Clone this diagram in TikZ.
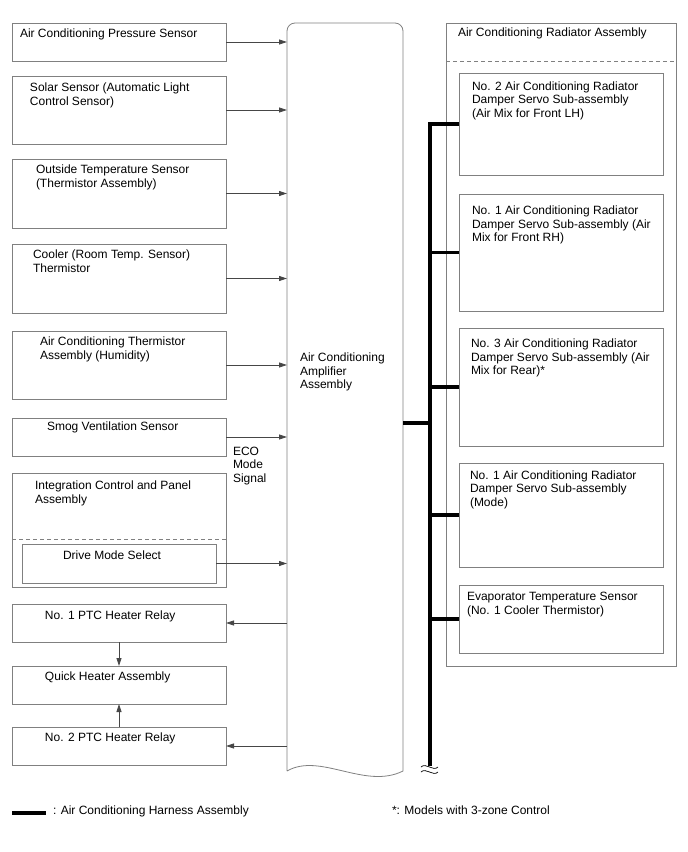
\documentclass[tikz,border=0pt]{standalone}
\usepackage{fontspec}
\setmainfont{Liberation Sans}
\usetikzlibrary{arrows.meta}
\definecolor{boxgray}{RGB}{128,128,128}
\definecolor{arrgray}{RGB}{70,70,70}
\begin{document}
\begin{tikzpicture}[x=1pt,y=-1pt,
  box/.style={draw=boxgray,line width=0.8pt,inner sep=0pt,outer sep=0pt,anchor=north west},
  txt/.style={inner sep=0pt,outer sep=0pt,anchor=north west,align=left,font=\fontsize{12}{13.5}\selectfont},
  arr/.style={draw=arrgray,line width=0.8pt,-{Triangle[length=8pt,width=5pt]}},
  harness/.style={line width=3.6pt,black},
  dsh/.style={draw=boxgray,line width=0.8pt,dash pattern=on 4pt off 3pt}]
\useasboundingbox (0,0) rectangle (688,852);

% left boxes
\node[box,minimum width=214pt,minimum height=38pt] (b1) at (12,23) {};
\node[box,minimum width=214pt,minimum height=68pt] (b2) at (12,76) {};
\node[box,minimum width=214pt,minimum height=69pt] (b3) at (12,159) {};
\node[box,minimum width=214pt,minimum height=69pt] (b4) at (12,244) {};
\node[box,minimum width=214pt,minimum height=68pt] (b5) at (12,331) {};
\node[box,minimum width=214pt,minimum height=38pt] (b6) at (12,418) {};
\node[box,minimum width=214pt,minimum height=114pt] (b7) at (12,473) {};
\node[box,minimum width=194pt,minimum height=39pt] (dm) at (22,544) {};
\node[box,minimum width=214pt,minimum height=38pt] (p1) at (12,604) {};
\node[box,minimum width=214pt,minimum height=38pt] (qh) at (12,666) {};
\node[box,minimum width=214pt,minimum height=38pt] (p2) at (12,727) {};
\draw[dsh] (b7.west |- 0,539) -- (b7.east |- 0,539);

% texts left
\node[txt] (t1) at (20,29) {Air Conditioning Pressure Sensor};
\node[txt] (t2) at (30,83) {Solar Sensor (Automatic Light\\Control Sensor)};
\node[txt] (t3) at (36,165) {Outside Temperature Sensor\\(Thermistor Assembly)};
\node[txt] (t4) at (33,250) {Cooler (Room Temp. Sensor)\\Thermistor};
\node[txt] (t5) at (40,337) {Air Conditioning Thermistor\\Assembly (Humidity)};
\node[txt] (t6) at (47,422) {Smog Ventilation Sensor};
\node[txt] (eco) at (233,447) {ECO\\Mode\\Signal};
\node[txt] (t7) at (35,481) {Integration Control and Panel\\Assembly};
\node[txt] (t8) at (63,550.5) {Drive Mode Select};
\node[txt] (tp1) at (45,610.5) {No. 1 PTC Heater Relay};
\node[txt] (tqh) at (45,672) {Quick Heater Assembly};
\node[txt] (tp2) at (45,733) {No. 2 PTC Heater Relay};

% amplifier
\node[inner sep=0pt,outer sep=0pt,anchor=north west,minimum width=116pt,minimum height=749pt] (amp) at (287,23) {};
\draw[boxgray,line width=0.8pt] (287,771) [rounded corners=8pt] -- (287,23) -- (403,23) [sharp corners] -- (403,771)
  .. controls (365,790) and (320,752) .. (287,771);
\node[txt] (tamp) at (300,353) {Air Conditioning\\Amplifier\\Assembly};

% arrows into amplifier
\foreach \n in {b1,b2,b3,b4,b5,b6,dm}
  \draw[arr] (\n.east) -- (\n.east -| amp.west);
\draw[arr] (p1.east -| amp.west) -- (p1.east);
\draw[arr] (p2.east -| amp.west) -- (p2.east);
\draw[arr] (p1.south) -- (qh.north);
\draw[arr] (p2.north) -- (qh.south);

% radiator assembly
\node[box,minimum width=230pt,minimum height=643pt] (rad) at (446,23) {};
\draw[dsh] (rad.west |- 0,61) -- (rad.east |- 0,61);
\node[txt] (trad) at (458,28) {Air Conditioning Radiator Assembly};
\node[box,minimum width=204pt,minimum height=102pt] (ra) at (459,73) {};
\node[box,minimum width=204pt,minimum height=117pt] (rb) at (459,194) {};
\node[box,minimum width=204pt,minimum height=118pt] (rc) at (459,328) {};
\node[box,minimum width=204pt,minimum height=104pt] (rd) at (459,463) {};
\node[box,minimum width=204pt,minimum height=68pt] (re) at (459,585) {};
\node[txt] (tra) at (472,81.5) {No. 2 Air Conditioning Radiator\\Damper Servo Sub-assembly\\(Air Mix for Front LH)};
\node[txt] (trb) at (472,206) {No. 1 Air Conditioning Radiator\\Damper Servo Sub-assembly (Air\\Mix for Front RH)};
\node[txt] (trc) at (471,339) {No. 3 Air Conditioning Radiator\\Damper Servo Sub-assembly (Air\\Mix for Rear)*};
\node[txt] (trd) at (470,470.5) {No. 1 Air Conditioning Radiator\\Damper Servo Sub-assembly\\(Mode)};
\node[txt] (tre) at (467,592.5) {Evaporator Temperature Sensor\\(No. 1 Cooler Thermistor)};

% harness
\coordinate (j) at (430,423);
\coordinate (bb) at (430,768);
\draw[harness,line join=miter] (ra.west) -| (bb);
\foreach \n in {rb,rc,rd,re}
  \draw[harness] (\n.west) -- (\n.west -| bb);
\draw[harness] (amp.east |- j) -- (j);
\fill[white] (420,766) rectangle (440,773);
\draw[black,line width=0.7pt] (421,767) .. controls (426,762) and (433,772) .. (438,767);
\draw[black,line width=0.7pt] (421,772) .. controls (426,767) and (433,777) .. (438,772);

% legend
\coordinate (l1) at (12,813);
\coordinate (l2) at (46,813);
\draw[harness] (l1) -- (l2);
\node[txt] (tl1) at (53,806) {: Air Conditioning Harness Assembly};
\node[txt] (tl2) at (392,806) {*: Models with 3-zone Control};
\end{tikzpicture}
\end{document}
